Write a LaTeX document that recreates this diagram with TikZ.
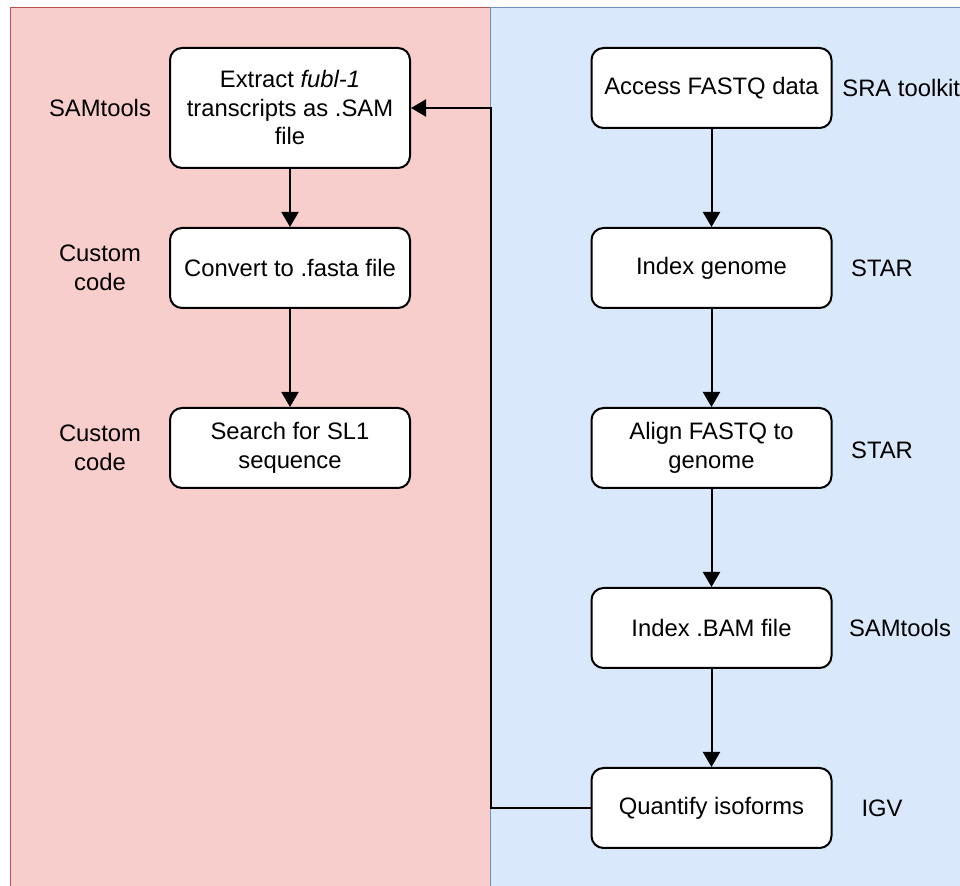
\documentclass[tikz,border=0pt]{standalone}
\usepackage{fontspec}
\setmainfont{Liberation Sans}
\usetikzlibrary{arrows.meta}
\definecolor{leftBg}{HTML}{F8CECC}
\definecolor{leftLine}{HTML}{B85450}
\definecolor{rightBg}{HTML}{DAE8FC}
\definecolor{rightLine}{HTML}{6C8EBF}

\begin{document}
\begin{tikzpicture}[x=0.5pt, y=-0.5pt,
    font=\fontsize{11.9}{14.25}\selectfont,
    stepbox/.style={draw, fill=white, rounded corners=6pt, line width=1pt,
        minimum width=120pt, minimum height=40pt, align=center, inner sep=2pt},
    toolname/.style={align=center},
    flow/.style={line width=1pt, -{Triangle[length=7.5pt, width=8.5pt]}}]
    \clip (0,0) rectangle (960,886);

    % two panels
    \filldraw[fill=leftBg, draw=leftLine, line width=0.5pt] (10,8) rectangle (490,900);
    \filldraw[fill=rightBg, draw=rightLine, line width=0.5pt] (490,8) rectangle (980,900);

    % right column
    \node[stepbox] (access) at (711.5,88) {Access FASTQ data};
    \node[stepbox] (index) at (711.5,268) {Index genome};
    \node[stepbox] (align) at (711.5,448) {Align FASTQ to\\genome};
    \node[stepbox] (bam) at (711.5,628) {Index .BAM file};
    \node[stepbox] (quant) at (711.5,808) {Quantify isoforms};

    \node[toolname, anchor=west, inner sep=0pt] (sra) at (842,88) {SRA toolkit};
    \node[toolname] (star1) at (882,268) {STAR};
    \node[toolname] (star2) at (882,450) {STAR};
    \node[toolname] (samr) at (900,628) {SAMtools};
    \node[toolname] (igv) at (882,808) {IGV};

    % left column
    \node[stepbox, minimum height=60pt] (extract) at (290,108)
        {Extract \textit{fubl-1}\\transcripts as .SAM\\file};
    \node[stepbox] (convert) at (290,268) {Convert to .fasta file};
    \node[stepbox] (search) at (290,448) {Search for SL1\\sequence};

    \node[toolname] (saml) at (100,108) {SAMtools};
    \node[toolname] (code1) at (100,268) {Custom\\code};
    \node[toolname] (code2) at (100,448) {Custom\\code};

    \draw[flow] (access) -- (index);
    \draw[flow] (index) -- (align);
    \draw[flow] (align) -- (bam);
    \draw[flow] (bam) -- (quant);
    \draw[flow] (extract) -- (convert);
    \draw[flow] (convert) -- (search);

    \coordinate (turn) at (491,108);
    \draw[flow] (quant.west) -| (turn) -- (extract.east);
\end{tikzpicture}
\end{document}
